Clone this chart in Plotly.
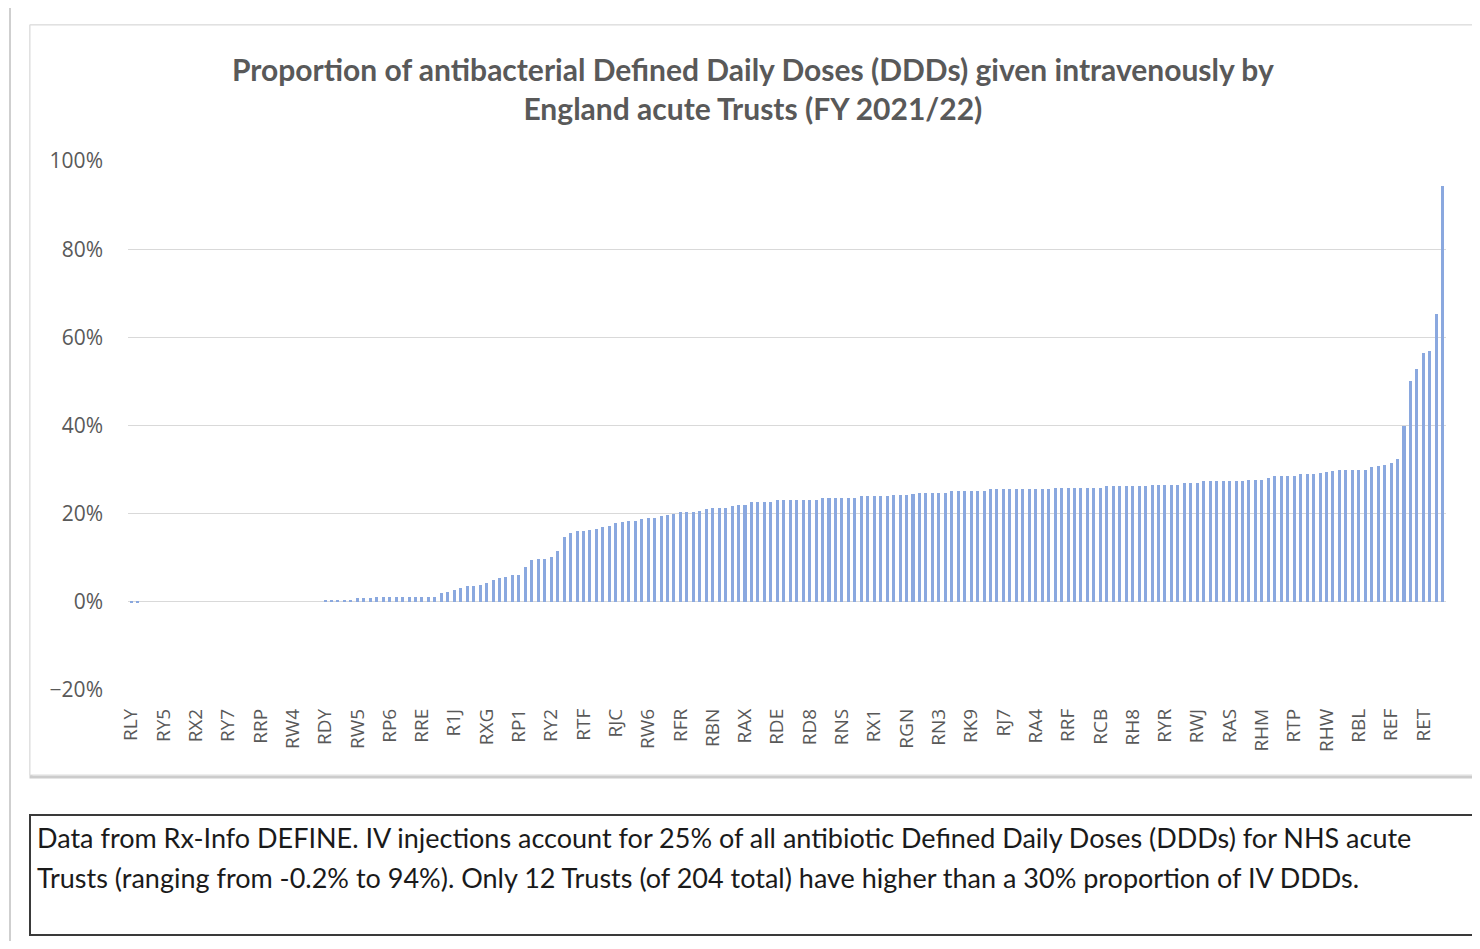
import plotly.graph_objects as go

# ---- data ----
tick_labels = ["RLY", "RY5", "RX2", "RY7", "RRP", "RW4", "RDY", "RW5", "RP6", "RRE",
               "R1J", "RXG", "RP1", "RY2", "RTF", "RJC", "RW6", "RFR", "RBN", "RAX",
               "RDE", "RD8", "RNS", "RX1", "RGN", "RN3", "RK9", "RJ7", "RA4", "RRF",
               "RCB", "RH8", "RYR", "RWJ", "RAS", "RHM", "RTP", "RHW", "RBL", "REF", "RET"]

iv_pct_low = [-0.2, -0.1] + [0.0] * 28
iv_pct_rise = [0.2, 0.3, 0.3, 0.4, 0.5, 0.9, 0.9, 0.9, 1.0, 1.1,
               1.1, 1.1, 1.2, 1.2, 1.2,
               1.2, 1.2, 1.2, 2.0, 2.3, 2.7, 3.1, 3.5, 3.5, 3.8,
               4.2, 5.0, 5.4, 5.7, 6.0, 6.0, 7.9, 9.4, 9.7, 9.7,
               10.1, 11.6, 14.8, 15.7, 16.1, 16.1, 16.3, 16.5, 16.9, 17.2,
               17.8, 18.0, 18.4, 18.4, 18.9, 19.0, 19.0, 19.5, 19.7, 20.0,
               20.3, 20.3, 20.3, 20.7, 21.0, 21.3, 21.3, 21.3, 21.8, 22.0]
iv_pct_mid = [22.0, 22.6, 22.6, 22.6, 22.6, 23.0, 23.0, 23.2, 23.2, 23.2,
              23.2, 23.2, 23.6, 23.6, 23.6, 23.6, 23.6, 23.6, 23.9, 23.9,
              23.9, 23.9, 24.1, 24.3, 24.3, 24.3, 24.5, 24.7, 24.7, 24.7,
              24.7, 24.7, 25.1, 25.1, 25.1, 25.1, 25.1, 25.1, 25.5, 25.5,
              25.5, 25.5, 25.5, 25.5, 25.5, 25.5, 25.5, 25.7, 25.8, 25.8]
iv_pct_high = [25.8, 25.8, 25.8, 25.8, 25.8, 25.8, 26.2, 26.2, 26.2, 26.2,
               26.2, 26.2, 26.2, 26.6, 26.6, 26.6, 26.6, 26.6, 27.0, 27.0,
               27.0, 27.3, 27.3, 27.3, 27.3, 27.3, 27.3, 27.3, 27.7, 27.7,
               27.7, 28.1, 28.5, 28.5, 28.5, 28.5, 28.9, 28.9, 28.9, 29.2,
               29.5, 29.6, 29.8, 29.9, 29.9, 30.0, 30.0]
iv_pct_top = [30.5, 30.8, 31.1, 31.4, 32.4, 39.8, 50.1, 52.8, 56.4, 56.8, 65.3, 94.3]

iv_pct = iv_pct_low + iv_pct_rise + iv_pct_mid + iv_pct_high + iv_pct_top
trust_rank = list(range(len(iv_pct)))
iv_share = [v / 100 for v in iv_pct]
tick_positions = trust_rank[::5]

title_text = ("<b>Proportion of antibacterial Defined Daily Doses (DDDs) given intravenously by"
              "<br>England acute Trusts (FY 2021/22)</b>")
note_lines = ["Data from Rx-Info DEFINE. IV injections account for 25% of all antibiotic Defined Daily Doses (DDDs) for NHS acute",
              "Trusts (ranging from -0.2% to 94%). Only 12 Trusts (of 204 total) have higher than a 30% proportion of IV DDDs."]

# ---- layout geometry (page pixels; the page body adds an 8px margin) ----
OFF = 8
W, H = 1480 - OFF, 949 - 2 * OFF
PL, PR, PT, PB = 128, 1446, 161, 690          # plot area in page pixels
L, R, T, B = PL - OFF, W - (PR - OFF), PT - OFF, H - (PB - OFF)
PW, PH = W - L - R, H - T - B


def px(x):
    return (x - OFF - L) / PW


def py(y):
    return (H - B - (y - OFF)) / PH


GREY = "#595959"

fig = go.Figure()
fig.add_trace(go.Bar(
    x=trust_rank, y=iv_share, width=0.47,
    marker=dict(color="#8aa8df", line=dict(width=0)),
    hovertemplate="%{y:.1%}<extra></extra>",
))

shapes = [
    # outer screenshot frame
    dict(type="line", xref="paper", yref="paper", x0=px(10), x1=px(10), y0=py(8), y1=py(941),
         line=dict(color="#cfcfcf", width=2), layer="below"),
    # chart area box (shadow + border)
    dict(type="rect", xref="paper", yref="paper", x0=px(31), x1=px(1476), y0=py(26), y1=py(777),
         line=dict(color="#cccccc", width=3), layer="below"),
    dict(type="rect", xref="paper", yref="paper", x0=px(30), x1=px(1475), y0=py(25), y1=py(775),
         line=dict(color="#dcdcdc", width=1), fillcolor="white", layer="below"),
    # note text box
    dict(type="rect", xref="paper", yref="paper", x0=px(30), x1=px(1476), y0=py(815), y1=py(935),
         line=dict(color="#3a3a3a", width=2), fillcolor="white", layer="below"),
]

annotations = [
    dict(text=title_text, xref="paper", yref="paper", x=px(753), y=py(88),
         xanchor="center", yanchor="middle", showarrow=False, align="center",
         font=dict(family="Lato", size=30, color=GREY)),
]
for line_text, yc in zip(note_lines, [837, 877]):
    annotations.append(dict(text=line_text, xref="paper", yref="paper", x=px(35), y=py(yc),
                            xanchor="left", yanchor="middle", showarrow=False, align="left",
                            font=dict(family="Lato", size=27, color="#1a1a1a")))

fig.update_layout(
    width=W, height=H,
    margin=dict(l=L, r=R, t=T, b=B, pad=0),
    paper_bgcolor="white", plot_bgcolor="white",
    showlegend=False, bargap=0,
    shapes=shapes, annotations=annotations,
    font=dict(family="Lato", color=GREY),
)
fig.update_xaxes(
    range=[-0.5, len(iv_pct) - 0.5],
    tickmode="array", tickvals=tick_positions, ticktext=tick_labels,
    tickangle=-90, tickfont=dict(family="Open Sans", size=19, color=GREY),
    showgrid=False, showline=False, zeroline=False, ticks="", ticklabelstandoff=14,
)
fig.update_yaxes(
    range=[-0.2, 1.0], tickmode="array",
    tickvals=[-0.2, 0, 0.2, 0.4, 0.6, 0.8, 1.0], tickformat=".0%",
    tickfont=dict(family="Open Sans", size=21, color=GREY),
    showgrid=True, gridcolor="#d9d9d9", gridwidth=1,
    zeroline=True, zerolinecolor="#d9d9d9", zerolinewidth=1,
    showline=False, ticks="", ticklabelstandoff=24,
)

fig.write_html("out.html")
